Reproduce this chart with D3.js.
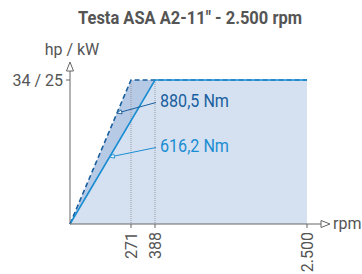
<!DOCTYPE html>
<html>
<head>
<meta charset="utf-8">
<script src="https://cdn.jsdelivr.net/npm/d3@7"></script>
<style>
  body { margin: 0; background: #fff; }
  text { font-family: "Roboto", "Liberation Sans", sans-serif; }
</style>
</head>
<body>
<div id="chart"></div>
<script>
// Chart data
let rpmTicks = [271, 388, 2500];
let tickLabels = ["271", "388", "2.500"];
let maxPower = 25;             // kW
let powerLabel = "34 / 25";
let torqueNames = ["880,5 Nm", "616,2 Nm"];
let kneeRpm = [271, 388];
let maxRpm = 2500;

let width = 362, height = 274;

let svg = d3.select("#chart")
  .append("svg")
  .attr("width", width)
  .attr("height", height);

// The x axis is not to scale: knee speeds get their own spacing
let x = d3.scaleLinear()
  .domain([0, 271, 388, 2500])
  .range([70, 131, 155, 307]);

let y = d3.scaleLinear()
  .domain([0, maxPower])
  .range([224, 80]);

let curveStyle = [
  {dash: "5,3", color: "#1a5f9e", labelY: 107, frac: 0.77},
  {dash: null, color: "#1a8dd2", labelY: 152, frac: 0.465}
];

let defs = svg.append("defs");
curveStyle.forEach((s, i) => {
  defs.append("marker")
    .attr("id", "arrow-" + i)
    .attr("viewBox", "0 0 10 10")
    .attr("refX", 9).attr("refY", 5)
    .attr("markerUnits", "userSpaceOnUse")
    .attr("markerWidth", 7).attr("markerHeight", 6)
    .attr("orient", "auto")
    .append("path")
    .attr("d", "M1,1.5 L9,5 L1,8.5 Z")
    .attr("fill", "#fff")
    .attr("stroke", s.color)
    .attr("stroke-width", 1.4);
});

function curvePts(knee) {
  return [[0, 0], [knee, maxPower], [maxRpm, maxPower]];
}

// Areas
let area = d3.area()
  .x(d => x(d[0]))
  .y0(y(0))
  .y1(d => y(d[1]));

svg.append("path")
  .datum(curvePts(kneeRpm[0]))
  .attr("d", area)
  .attr("fill", "#b6cae6");

svg.append("path")
  .datum(curvePts(kneeRpm[1]))
  .attr("d", area)
  .attr("fill", "#d5e1f1");

// Dotted verticals at knees
svg.selectAll(".knee")
  .data(kneeRpm)
  .enter()
  .append("line")
  .attr("x1", d => x(d))
  .attr("x2", d => x(d))
  .attr("y1", y(maxPower))
  .attr("y2", y(0))
  .attr("stroke", "#9a9aa2")
  .attr("stroke-width", 1)
  .attr("stroke-dasharray", "1,1");

// Curves
let line = d3.line()
  .x(d => x(d[0]))
  .y(d => y(d[1]));

svg.selectAll(".curve")
  .data(kneeRpm)
  .enter()
  .append("path")
  .attr("d", d => line(curvePts(d)))
  .attr("fill", "none")
  .attr("stroke", (d, i) => curveStyle[i].color)
  .attr("stroke-width", 1.6)
  .attr("stroke-dasharray", (d, i) => curveStyle[i].dash);

// Leader lines from labels to the rising part of each curve
kneeRpm.forEach((knee, i) => {
  let s = curveStyle[i];
  let px = x(0) + (x(knee) - x(0)) * s.frac;
  let py = y(maxPower * s.frac);
  svg.append("line")
    .attr("x1", 156)
    .attr("y1", s.labelY - 4.5)
    .attr("x2", px)
    .attr("y2", py)
    .attr("stroke", s.color)
    .attr("stroke-width", 1)
    .attr("marker-end", "url(#arrow-" + i + ")");
  svg.append("text")
    .attr("x", 160)
    .attr("y", s.labelY)
    .attr("fill", s.color)
    .attr("font-size", "19px")
    .attr("textLength", 69)
    .attr("lengthAdjust", "spacingAndGlyphs")
    .text(torqueNames[i]);
});

// Axes
let axisColor = "#666";
svg.append("line")
  .attr("x1", x(0)).attr("x2", 321)
  .attr("y1", y(0)).attr("y2", y(0))
  .attr("stroke", axisColor).attr("stroke-width", 1);
svg.append("path")
  .attr("d", "M321,220.5 L330,224 L321,227.5 Z")
  .attr("fill", "#fff").attr("stroke", axisColor);
svg.append("line")
  .attr("x1", x(0)).attr("x2", x(0))
  .attr("y1", y(0)).attr("y2", 71)
  .attr("stroke", axisColor).attr("stroke-width", 1);
svg.append("path")
  .attr("d", "M66.5,71 L70,62 L73.5,71 Z")
  .attr("fill", "#fff").attr("stroke", axisColor);

// x ticks
svg.selectAll(".xtick")
  .data(rpmTicks)
  .enter()
  .append("line")
  .attr("x1", d => x(d)).attr("x2", d => x(d))
  .attr("y1", y(0)).attr("y2", y(0) + 4)
  .attr("stroke", axisColor);

svg.selectAll(".xlabel")
  .data(rpmTicks)
  .enter()
  .append("text")
  .attr("transform", d => "translate(" + (x(d) + 6) + "," + (y(0) + 8) + ") rotate(-90)")
  .attr("text-anchor", "end")
  .attr("fill", "#555")
  .attr("font-size", "16px")
  .text((d, i) => tickLabels[i]);

// y tick
svg.append("line")
  .attr("x1", x(0) - 4).attr("x2", x(0))
  .attr("y1", y(maxPower)).attr("y2", y(maxPower))
  .attr("stroke", axisColor);
svg.append("text")
  .attr("x", 63).attr("y", y(maxPower) + 6)
  .attr("text-anchor", "end")
  .attr("fill", "#555")
  .attr("font-size", "16px")
  .text(powerLabel);

// Axis titles
svg.append("text")
  .attr("x", 72).attr("y", 55)
  .attr("text-anchor", "middle")
  .attr("fill", "#555")
  .attr("font-size", "16px")
  .text("hp / kW");
svg.append("text")
  .attr("x", 333).attr("y", 229)
  .attr("fill", "#555")
  .attr("font-size", "16px")
  .text("rpm");

// Title
svg.append("text")
  .attr("x", 78).attr("y", 24)
  .attr("fill", "#555")
  .attr("font-size", "18px")
  .attr("font-weight", "bold")
  .attr("textLength", 224)
  .attr("lengthAdjust", "spacingAndGlyphs")
  .text("Testa ASA A2-11\" - 2.500 rpm");
</script>
</body>
</html>
